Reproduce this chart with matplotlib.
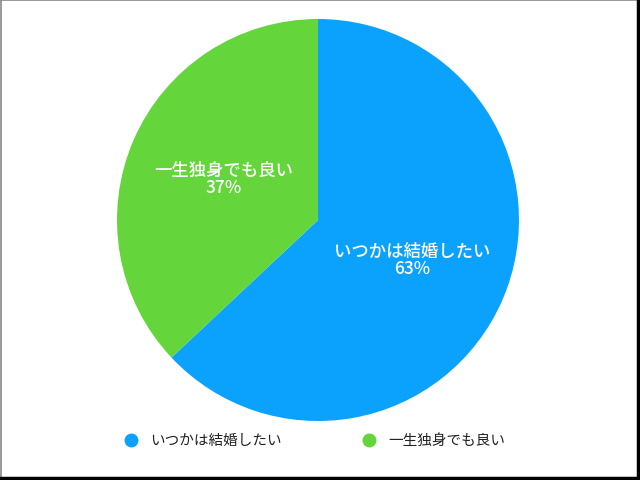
import matplotlib.pyplot as plt
from matplotlib.lines import Line2D

plt.rcParams['font.family'] = ['Noto Sans CJK JP', 'DejaVu Sans']

labels = ['いつかは結婚したい', '一生独身でも良い']
values = [63, 37]
colors = ['#0BA2FE', '#64D53B']

fig = plt.figure(figsize=(6.4, 4.8), dpi=100)
ax = fig.add_axes([(318 - 201) / 640, 1 - (220 + 201) / 480, 402 / 640, 402 / 480])

wedges, texts, autotexts = ax.pie(
    values, colors=colors, startangle=90, counterclock=False,
    autopct=lambda p: '',
    pctdistance=0.51,
    wedgeprops=dict(linewidth=0),
)
for t, lab, v in zip(autotexts, labels, values):
    t.set_text(f'{lab}\n{v}%')
    t.set_color('white')
    t.set_fontsize(12.5)
    t.set_fontweight('medium')
    t.set_linespacing(0.95)
    t.set_ha('center')
    t.set_va('center')
ax.set_xlim(-1, 1)
ax.set_ylim(-1, 1)
ax.set_aspect('equal')

handles = [Line2D([], [], marker='o', linestyle='none', markersize=9,
                  markerfacecolor=c, markeredgecolor=c) for c in colors]
fig.legend(handles, labels, loc='center', bbox_to_anchor=(0.5 - 9 / 640, 1 - 441 / 480),
           ncol=2, frameon=False, fontsize=10.5, handletextpad=0.3,
           columnspacing=5.0, labelcolor='#222222')

# frame around the picture
fig.add_artist(Line2D([0, 1], [0.999, 0.999], transform=fig.transFigure, color='#888888', lw=1.2))
fig.add_artist(Line2D([0.001, 0.001], [0, 1], transform=fig.transFigure, color='#888888', lw=1.2))
fig.add_artist(Line2D([0.997, 0.997], [0, 1], transform=fig.transFigure, color='black', lw=2.5))
fig.add_artist(Line2D([0, 1], [0.004, 0.004], transform=fig.transFigure, color='black', lw=2.5))

fig.savefig('out.png', dpi=100)
